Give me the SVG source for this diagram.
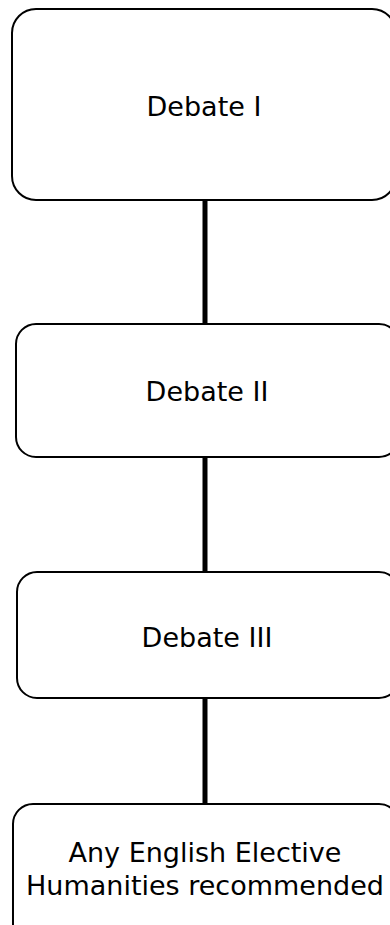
<svg xmlns="http://www.w3.org/2000/svg" width="390" height="925" viewBox="0 0 390 925">
  <style>
    .box { fill: #ffffff; stroke: #000000; stroke-width: 2; }
    .label { font-family: "DejaVu Sans", Verdana, sans-serif; font-size: 27px; fill: #000000; text-anchor: middle; }
    .link { stroke: #000000; stroke-width: 5; fill: none; }
  </style>
  <rect width="390" height="925" fill="#ffffff"/>

  <!-- vertical links between the stages -->
  <g id="connectors">
    <line class="link" x1="205" y1="200" x2="205" y2="324"/>
    <line class="link" x1="205" y1="457" x2="205" y2="572"/>
    <line class="link" x1="205" y1="698" x2="205" y2="804"/>
  </g>

  <g id="debate-1">
    <rect class="box" x="12" y="9" width="384" height="191" rx="24" ry="24"/>
    <text class="label" x="204" y="116">Debate I</text>
  </g>

  <g id="debate-2">
    <rect class="box" x="16" y="324" width="383" height="133" rx="20" ry="20"/>
    <text class="label" x="207" y="401">Debate II</text>
  </g>

  <g id="debate-3">
    <rect class="box" x="17" y="572" width="382" height="126" rx="20" ry="20"/>
    <text class="label" x="207" y="647">Debate III</text>
  </g>

  <g id="elective">
    <rect class="box" x="13" y="804" width="386" height="140" rx="20" ry="20"/>
    <text class="label" x="205" y="862">Any English Elective</text>
    <text class="label" x="205" y="895">Humanities recommended</text>
  </g>
</svg>
